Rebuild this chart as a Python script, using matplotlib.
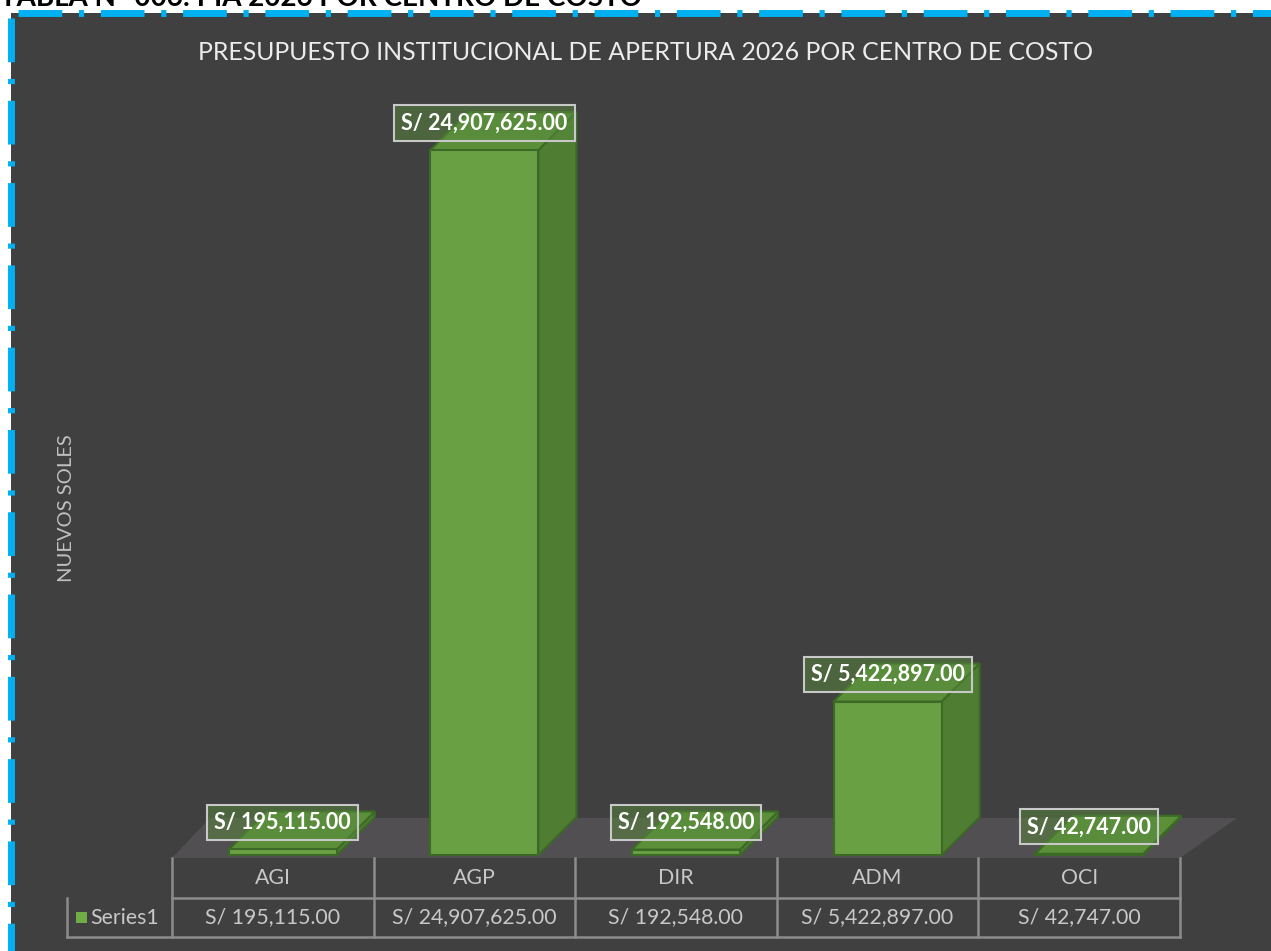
import numpy as np
import matplotlib.pyplot as plt
from matplotlib.patches import Polygon, Rectangle
from matplotlib.lines import Line2D

# data
categories = ["AGI", "AGP", "DIR", "ADM", "OCI"]
values = [195115.00, 24907625.00, 192548.00, 5422897.00, 42747.00]
series_name = "Series1"
title = "PRESUPUESTO INSTITUCIONAL DE APERTURA 2026 POR CENTRO DE COSTO"
top_title = "TABLA N° 006: PIA 2026 POR CENTRO DE COSTO"
y_label = "NUEVOS SOLES"


def soles(v):
    return f"S/ {v:,.2f}"


W, H = 1271, 951
FONT = "Lato"
BG = "#404040"
FRONT = "#68a043"
SIDE = "#4f7e33"
TOP = "#5b9039"
EDGE = "#3c6a26"
DASH = (0, (6.3, 2.4, 0.75, 2.4))

fig = plt.figure(figsize=(W / 100, H / 100), dpi=100, facecolor="white")

# background / frame layer in pixel coordinates
bg = fig.add_axes([0, 0, 1, 1])
bg.set_xlim(0, W)
bg.set_ylim(H, 0)
bg.axis("off")
bg.add_patch(Rectangle((11, 13), W - 11, H - 13, facecolor=BG, edgecolor="none"))
bg.plot([18, W], [13, 13], color="#00b0f0", lw=5, ls=DASH,
        solid_capstyle="butt", dash_capstyle="butt")
bg.plot([11, 11], [18, H], color="#00b0f0", lw=5, ls=DASH,
        solid_capstyle="butt", dash_capstyle="butt")
bg.text(0, 6, top_title, fontsize=20, fontweight="bold", family=FONT,
        color="black", va="baseline", ha="left")
bg.text(646, 53, title, fontsize=17.9, family=FONT, color="#ececec",
        ha="center", va="center")
bg.text(67, 508, y_label, fontsize=14.5, family=FONT, color="#bfbfbf",
        rotation=90, ha="center", va="center")

# chart axes: categories across, value up
ax = fig.add_axes([172 / W, (H - 855) / H, 1008 / W, 755 / H])
ymax = 24907625.00 * 755 / 705
ax.set_xlim(-0.5, len(categories) - 0.5)
ax.set_ylim(0, ymax)
ax.axis("off")

px_x = len(categories) / 1008.0   # category units per pixel
px_y = ymax / 755.0               # value units per pixel
dx, dy = 38 * px_x, 38 * px_y
w = 108 * px_x
off = 10 * px_x

# floor
floor = Polygon([(-0.5, -3 * px_y), (4.5, -3 * px_y),
                 (4.5 + 57 * px_x, 37 * px_y), (-0.5 + 38 * px_x, 37 * px_y)],
                closed=True, facecolor="#514f51", edgecolor="none", zorder=1,
                clip_on=False)
ax.add_patch(floor)

for i, v in enumerate(values):
    x0 = i - w / 2 + off
    x1 = x0 + w
    side = [(x1, 0), (x1 + dx, dy), (x1 + dx, v + dy), (x1, v)]
    top = [(x0, v), (x1, v), (x1 + dx, v + dy), (x0 + dx, v + dy)]
    front = [(x0, 0), (x1, 0), (x1, v), (x0, v)]
    for pts, c in ((side, SIDE), (top, TOP), (front, FRONT)):
        ax.add_patch(Polygon(pts, closed=True, facecolor=c, edgecolor=EDGE,
                             lw=1.5, zorder=3, clip_on=False))
    ax.annotate(soles(v), xy=(i + off, v), xytext=(0, 27 * 0.72),
                textcoords="offset points", ha="center", va="center",
                fontsize=15.5, fontweight="bold", family=FONT, color="white",
                zorder=5,
                bbox=dict(boxstyle="square,pad=0.33", facecolor=(0.35, 0.54, 0.24, 0.5),
                          edgecolor="#c8c8c8", lw=1.5))

# data table under the chart (y in axes fraction)
tr = ax.get_xaxis_transform()
r0 = -3 / 755
r1 = -43 / 755
r2 = -82 / 755
grid = "#8c8c8c"
n = len(categories)
lines = [([-0.5, n - 0.5], [r1, r1]), ([-0.5 - 105 * px_x, n - 0.5], [r2, r2]),
         ([-0.5 - 105 * px_x, -0.5 - 105 * px_x], [r1, r2])]
for k in range(n + 1):
    lines.append(([k - 0.5, k - 0.5], [r0, r2]))
for xs, ys in lines:
    ax.add_line(Line2D(xs, ys, color=grid, lw=1.8, transform=tr, clip_on=False,
                       solid_capstyle="projecting"))
for i, (c, v) in enumerate(zip(categories, values)):
    ax.text(i, (r0 + r1) / 2, c, transform=tr, ha="center", va="center",
            fontsize=15.3, family=FONT, color="#c8c8c8")
    ax.text(i, (r1 + r2) / 2, soles(v), transform=tr, ha="center", va="center",
            fontsize=15.3, family=FONT, color="#c8c8c8")
ax.add_patch(Rectangle((-0.5 - 96 * px_x, r1 + (r2 - r1) * 0.35), 11 * px_x,
                       (r2 - r1) * 0.3, transform=tr, facecolor="#70ad47",
                       edgecolor="none", clip_on=False))
ax.text(-0.5 - 82 * px_x, (r1 + r2) / 2, series_name, transform=tr, ha="left",
        va="center", fontsize=15.3, family=FONT, color="#c8c8c8")

fig.savefig("out.png", dpi=100, facecolor=fig.get_facecolor())
